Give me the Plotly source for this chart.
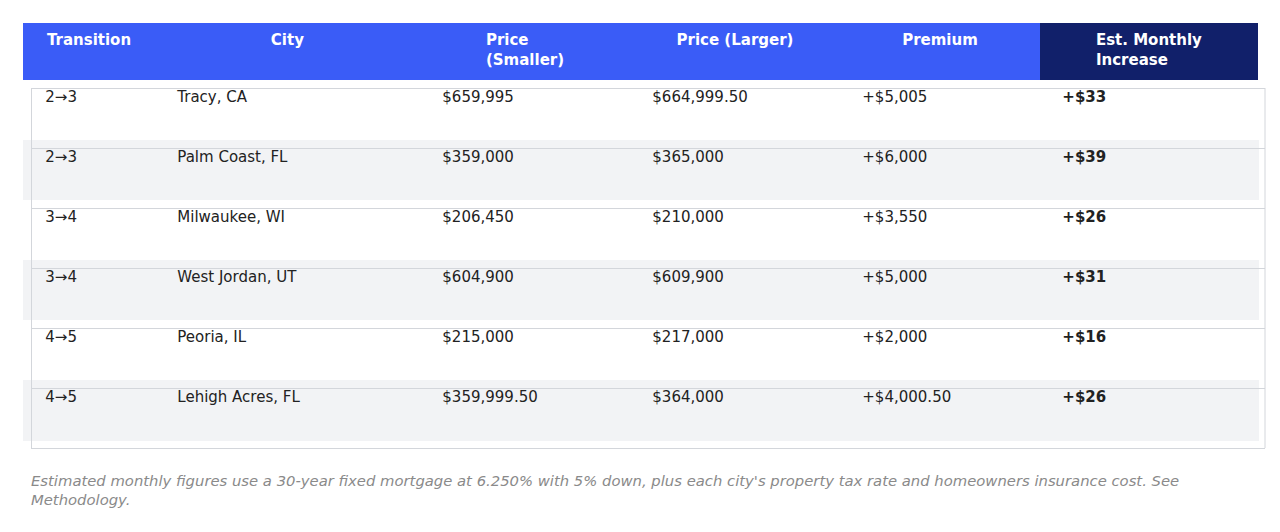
import plotly.graph_objects as go

headers = ["Transition", "City", "Price<br>(Smaller)", "Price (Larger)", "Premium", "Est. Monthly<br>Increase"]
transitions = ["2→3", "2→3", "3→4", "3→4", "4→5", "4→5"]
cities = ["Tracy, CA", "Palm Coast, FL", "Milwaukee, WI", "West Jordan, UT", "Peoria, IL", "Lehigh Acres, FL"]
price_smaller = ["$659,995", "$359,000", "$206,450", "$604,900", "$215,000", "$359,999.50"]
price_larger = ["$664,999.50", "$365,000", "$210,000", "$609,900", "$217,000", "$364,000"]
premium = ["+$5,005", "+$6,000", "+$3,550", "+$5,000", "+$2,000", "+$4,000.50"]
monthly = ["+$33", "+$39", "+$26", "+$31", "+$16", "+$26"]

W, H = 1280, 532
n = len(cities)
row_fill = ["#ffffff" if i % 2 == 0 else "#f2f3f5" for i in range(n)]
pad = "&nbsp;&nbsp;&nbsp;"


def cell(v, bold=False):
    t = f"<b>{v}</b>" if bold else v
    return f"<br>{pad}{t}"


hdr_cols = [h if "<br>" in h else "<br>" + h for h in headers]
hdr_cols = [h.replace("<br>", "<br>", 1) for h in hdr_cols]

fig = go.Figure(go.Table(
    domain=dict(x=[15 / W, 1250 / W], y=[0, 1 - 15 / H]),
    columnwidth=[132, 265, 210, 210, 200, 218],
    header=dict(
        values=[f"<b>{h}</b>" for h in headers],
        fill_color=["#3a5cf7"] * 5 + ["#11206a"],
        font=dict(color="white", size=15, family="DejaVu Sans"),
        align="center",
        height=57,
        line=dict(color=["#3a5cf7"] * 5 + ["#11206a"], width=0),
    ),
    cells=dict(
        values=[[cell(v) for v in transitions], [cell(v) for v in cities],
                [cell(v) for v in price_smaller], [cell(v) for v in price_larger],
                [cell(v) for v in premium], [cell(v, True) for v in monthly]],
        fill_color=[row_fill] * 6,
        font=dict(color="#222222", size=15, family="DejaVu Sans"),
        align="left",
        height=60,
        line=dict(color=[row_fill] * 6, width=1),
    ),
))

# horizontal row separators and outer border
top = 80
for i in range(n + 1):
    y = top + 60 * i + 0.5
    fig.add_shape(type="line", xref="paper", yref="paper",
                  x0=23 / W, x1=1257 / W, y0=1 - y / H, y1=1 - y / H,
                  line=dict(color="#d3d6db", width=1))
for x in (23.5, 1257):
    fig.add_shape(type="line", xref="paper", yref="paper",
                  x0=x / W, x1=x / W, y0=1 - top / H, y1=1 - (top + 60 * n) / H,
                  line=dict(color="#d3d6db", width=1))

fig.add_annotation(
    x=21 / W, y=1 - 462 / H, xref="paper", yref="paper",
    xanchor="left", yanchor="top", align="left", showarrow=False,
    text="<i>Estimated monthly figures use a 30-year fixed mortgage at 6.250% with 5% down, plus each city's property tax rate and homeowners insurance cost. See<br>Methodology.</i>",
    font=dict(size=14.8, color="#8a8a8a", family="DejaVu Sans"),
)

fig.update_layout(width=W, height=H, margin=dict(l=0, r=0, t=0, b=0),
                  paper_bgcolor="white")
fig.write_html("out.html")
